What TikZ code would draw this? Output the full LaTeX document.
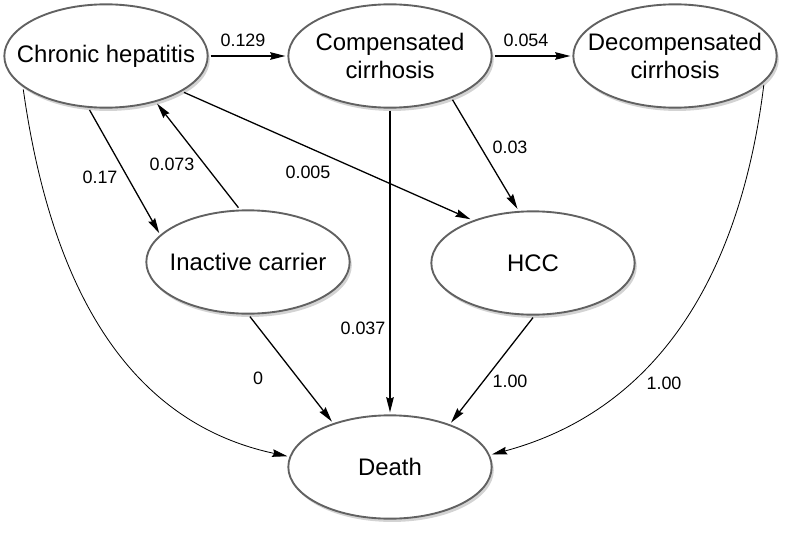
\documentclass[tikz,border=0pt]{standalone}
\usepackage{fontspec}
\setmainfont{Liberation Sans}
\usetikzlibrary{arrows.meta, shapes.geometric, shadows}

\begin{document}
\begin{tikzpicture}[x=0.03cm, y=0.03cm,
	state/.style={ellipse, draw=black!62, line width=1.6pt, fill=white,
		minimum width=6.1cm, minimum height=3.1cm, inner xsep=-25pt, inner ysep=-5pt,
		outer sep=2.5pt, align=center, font=\fontsize{20.4}{24.5}\selectfont,
		drop shadow={shadow xshift=1.8pt, shadow yshift=-2.8pt, opacity=0.35}},
	prob/.style={font=\fontsize{15.3}{18}\selectfont, inner sep=0pt},
	trans/.style={-{Stealth[length=13pt, width=6.5pt, inset=1.5pt]}, line width=1.1pt},
	curved/.style={trans, line width=0.7pt}]
\useasboundingbox (0,0) rectangle (787,-534);
\node[state] (ch) at (106,-56) {Chronic hepatitis};
\node[state] (cc) at (390,-56) {Compensated\\cirrhosis};
\node[state] (dc) at (675,-56) {Decompensated\\cirrhosis};
\node[state] (ic) at (248,-262) {Inactive carrier};
\node[state] (hcc) at (533,-263) {HCC};
\node[state] (death) at (390,-467) {Death};
\node[prob] (p129) at (243,-40) {0.129};
\node[prob] (p054) at (526,-40) {0.054};
\node[prob] (p17) at (100,-177) {0.17};
\node[prob] (p073) at (172,-164) {0.073};
\node[prob] (p005) at (308,-172) {0.005};
\node[prob] (p03) at (510,-147) {0.03};
\node[prob] (p037) at (363,-328) {0.037};
\node[prob] (p0) at (258,-378) {0};
\node[prob] (phcc) at (510,-381) {1.00};
\node[prob] (pdc) at (664,-383) {1.00};
\draw[trans] (ch) -- (cc);
\draw[trans] (cc) -- (dc);
\draw[trans] (ch.-107) -- (ic.162);
\draw[trans] (ic.100) -- (ch.-43);
\draw[trans] (ch.-25) -- (hcc.145);
\draw[trans] (cc.-35) -- (hcc.106);
\draw[trans] (cc) -- (death);
\draw[trans] (ic.-88) -- (death.142);
\draw[trans] (hcc.-90) -- (death.36);
\draw[curved] (ch.-158) to[out=-82, in=168] (death.174);
\draw[curved] (dc.-18) to[out=-97, in=15] (death.7);
\end{tikzpicture}
\end{document}
